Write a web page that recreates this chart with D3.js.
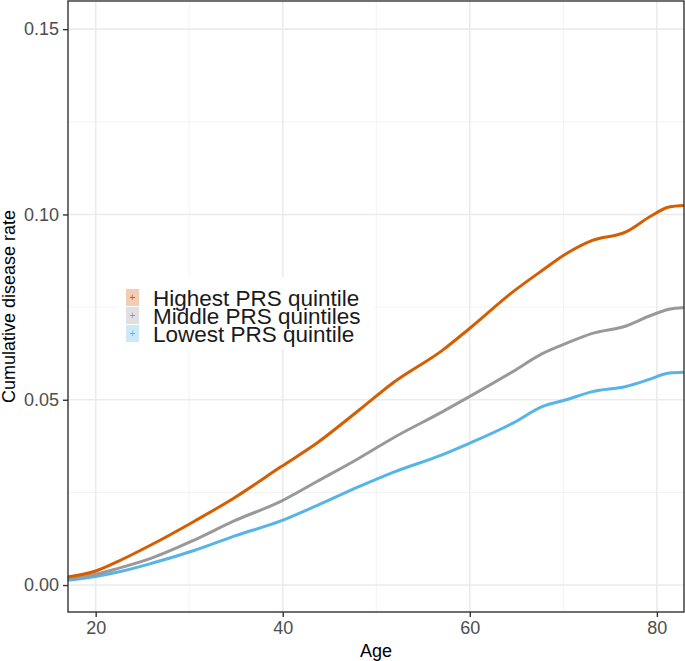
<!DOCTYPE html>
<html>
<head>
<meta charset="utf-8">
<script src="https://cdn.jsdelivr.net/npm/d3@7"></script>
<style>
  body { margin: 0; background: #fff; }
  svg { display: block; font-family: "Liberation Sans", Arial, sans-serif; }
</style>
</head>
<body>
<div id="chart"></div>
<script>
const ages = [17, 20, 22.4, 25.9, 30.6, 34.8, 39.8, 43.7, 48.2, 51.8, 57.1, 60, 64.6, 67.8, 70.3, 73.1, 76.7, 79.2, 81.3, 82.9]
const highest = [0.0022, 0.0038, 0.0064, 0.0108, 0.0173, 0.0235, 0.0319, 0.0384, 0.0473, 0.0546, 0.0634, 0.0693, 0.0791, 0.0850, 0.0894, 0.0930, 0.0953, 0.0993, 0.1020, 0.1024]
const middle = [0.0017, 0.0029, 0.0045, 0.0072, 0.0122, 0.0173, 0.0226, 0.0280, 0.0343, 0.0397, 0.0468, 0.0509, 0.0576, 0.0625, 0.0652, 0.0679, 0.0699, 0.0726, 0.0744, 0.0749]
const lowest = [0.0013, 0.0023, 0.0035, 0.0058, 0.0094, 0.0132, 0.0173, 0.0215, 0.0266, 0.0304, 0.0352, 0.0383, 0.0437, 0.0482, 0.0500, 0.0522, 0.0536, 0.0555, 0.0572, 0.0574]

const seriesNames = ["Highest PRS quintile", "Middle PRS quintiles", "Lowest PRS quintile"]
const seriesColors = ["#D55E00", "#999999", "#56B4E9"]
const seriesFills = ["#F3CDB3", "#E0E0E0", "#CDE9F8"]

const xTicks = [20, 40, 60, 80]
const xMinor = [30, 50, 70]
const yTicks = [0, 0.05, 0.10, 0.15]
const yMinor = [0.025, 0.075, 0.125]

const width = 685
const height = 661
const panel = {left: 68, right: 684, top: 1, bottom: 612}

const svg = d3.select("#chart").append("svg")
  .attr("width", width)
  .attr("height", height)

const xScale = d3.scaleLinear()
  .domain([17.04, 82.9])
  .range([panel.left, panel.right])

const yScale = d3.scaleLinear()
  .domain([-0.00727, 0.1576])
  .range([panel.bottom, panel.top])

// grid
svg.append("g").selectAll("line.xminor")
  .data(xMinor).enter().append("line")
    .attr("x1", d => xScale(d)).attr("x2", d => xScale(d))
    .attr("y1", panel.top).attr("y2", panel.bottom)
    .attr("stroke", "#F2F2F2").attr("stroke-width", 1)
svg.append("g").selectAll("line.yminor")
  .data(yMinor).enter().append("line")
    .attr("y1", d => yScale(d)).attr("y2", d => yScale(d))
    .attr("x1", panel.left).attr("x2", panel.right)
    .attr("stroke", "#F2F2F2").attr("stroke-width", 1)
svg.append("g").selectAll("line.xmajor")
  .data(xTicks).enter().append("line")
    .attr("x1", d => xScale(d)).attr("x2", d => xScale(d))
    .attr("y1", panel.top).attr("y2", panel.bottom)
    .attr("stroke", "#EBEBEB").attr("stroke-width", 1.6)
svg.append("g").selectAll("line.ymajor")
  .data(yTicks).enter().append("line")
    .attr("y1", d => yScale(d)).attr("y2", d => yScale(d))
    .attr("x1", panel.left).attr("x2", panel.right)
    .attr("stroke", "#EBEBEB").attr("stroke-width", 1.6)

// lines
const line = d3.line()
  .x(d => xScale(d[0]))
  .y(d => yScale(d[1]))
  .curve(d3.curveMonotoneX)

const allSeries = [highest, middle, lowest]
// lowest first so highest ends on top
allSeries.slice().reverse().forEach((vals, ri) => {
  const i = allSeries.length - 1 - ri
  svg.append("path")
    .datum(ages.map((a, j) => [a, vals[j]]))
    .attr("d", line)
    .attr("fill", "none")
    .attr("stroke", seriesColors[i])
    .attr("stroke-width", 3)
})

// legend
const legend = svg.append("g").attr("transform", "translate(118,277)")
legend.append("rect")
  .attr("width", 256).attr("height", 72)
  .attr("fill", "#fff")
seriesNames.forEach((name, i) => {
  const g = legend.append("g").attr("transform", `translate(8,${12 + i * 18})`)
  g.append("rect")
    .attr("width", 13).attr("height", 17)
    .attr("fill", seriesFills[i])
  g.append("text")
    .attr("x", 6.5).attr("y", 8.5)
    .attr("text-anchor", "middle").attr("dominant-baseline", "central")
    .attr("font-size", 10)
    .attr("fill", seriesColors[i])
    .text("+")
  g.append("text")
    .attr("x", 27).attr("y", 9)
    .attr("dominant-baseline", "central")
    .attr("font-size", 22.5)
    .attr("fill", "#1a1a1a")
    .text(name)
})

// panel border
svg.append("rect")
  .attr("x", panel.left).attr("y", panel.top)
  .attr("width", panel.right - panel.left).attr("height", panel.bottom - panel.top)
  .attr("fill", "none").attr("stroke", "#333").attr("stroke-width", 1.4)

// axes
const xAxis = svg.append("g")
  .attr("transform", `translate(0,${panel.bottom})`)
  .call(d3.axisBottom(xScale).tickValues(xTicks).tickSize(5).tickPadding(4))
const yAxis = svg.append("g")
  .attr("transform", `translate(${panel.left},0)`)
  .call(d3.axisLeft(yScale).tickValues(yTicks).tickSize(5).tickPadding(4).tickFormat(d3.format(".2f")))

;[xAxis, yAxis].forEach(ax => {
  ax.select(".domain").remove()
  ax.selectAll(".tick line").attr("stroke", "#333").attr("stroke-width", 1.4)
  ax.selectAll(".tick text")
    .attr("fill", "#4D4D4D")
    .attr("font-size", 18)
    .attr("font-family", "Liberation Sans, Arial, sans-serif")
})

svg.append("text")
  .attr("x", (panel.left + panel.right) / 2).attr("y", 657)
  .attr("text-anchor", "middle")
  .attr("font-size", 18)
  .attr("fill", "#000")
  .text("Age")

svg.append("text")
  .attr("transform", `translate(15,${(panel.top + panel.bottom) / 2}) rotate(-90)`)
  .attr("text-anchor", "middle")
  .attr("font-size", 18)
  .attr("fill", "#000")
  .text("Cumulative disease rate")
</script>
</body>
</html>
